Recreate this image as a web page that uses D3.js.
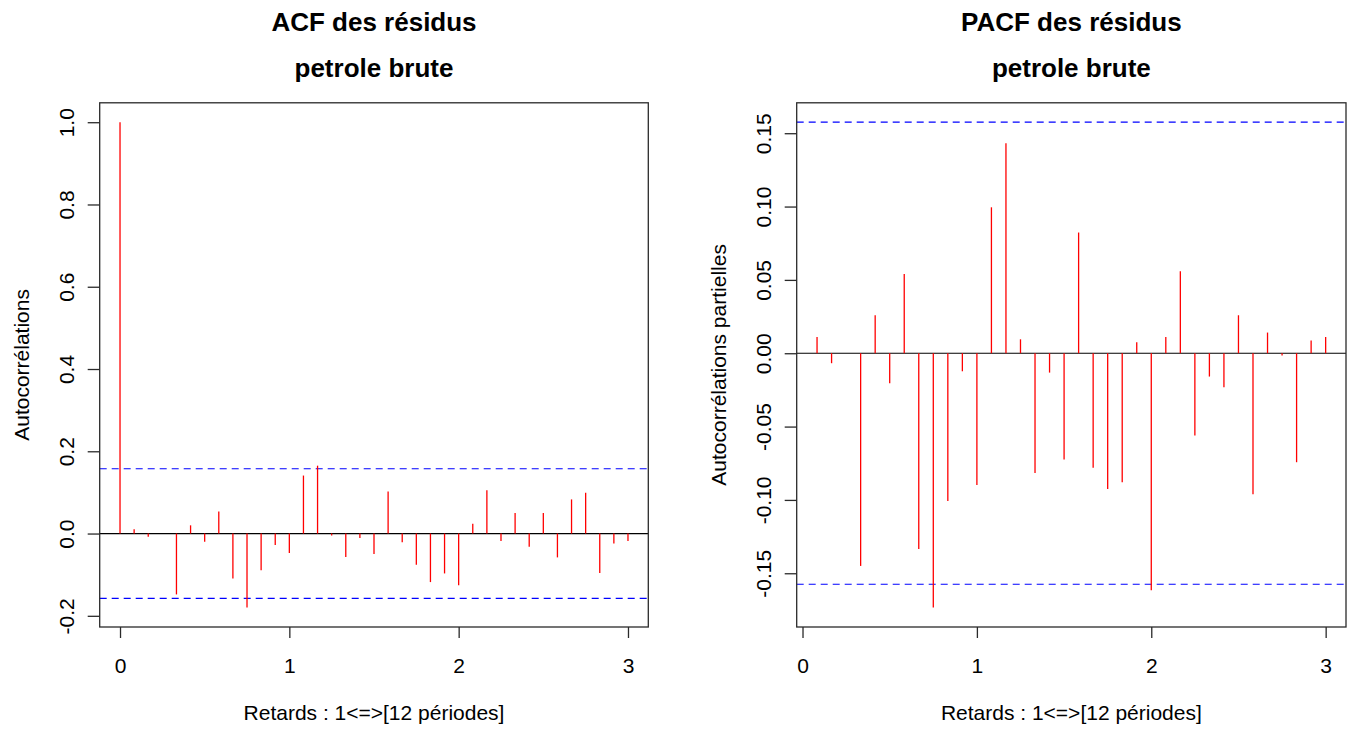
<!DOCTYPE html>
<html>
<head>
<meta charset="utf-8">
<script src="https://cdn.jsdelivr.net/npm/d3@7"></script>
<style>
  html, body { margin: 0; padding: 0; background: #fff; }
  svg { display: block; font-family: "Liberation Sans", Arial, sans-serif; }
</style>
</head>
<body>
<svg id="chart" width="1355" height="729"></svg>
<script>
// Residual autocorrelations, lag k corresponds to k/12 (12 periods per unit)
const acfValues = [1.0, 0.0105, -0.008, 0.0, -0.148, 0.020, -0.020, 0.0535, -0.109, -0.180,
  -0.089, -0.0276, -0.047, 0.141, 0.165, -0.005, -0.057, -0.011, -0.050, 0.102,
  -0.021, -0.076, -0.118, -0.097, -0.126, 0.024, 0.105, -0.018, 0.050, -0.032,
  0.050, -0.058, 0.083, 0.099, -0.096, -0.024, -0.018];

// Partial autocorrelations, lags 1..36
const pacfValues = [0.0111, -0.0068, 0.0, -0.145, 0.0259, -0.0205, 0.0541, -0.1334, -0.1734,
  -0.1007, -0.0123, -0.0898, 0.0995, 0.1432, 0.0095, -0.0816, -0.0132, -0.0725,
  0.0823, -0.078, -0.0925, -0.088, 0.0075, -0.1616, 0.0111, 0.0559, -0.0561,
  -0.0159, -0.0232, 0.0259, -0.0961, 0.0141, -0.0016, -0.0743, 0.0086, 0.0111];

const confLimit = 0.1575;          // 95% band, 1.96 / sqrt(n)
const periodsPerUnit = 12;

const acfTicks = [-0.2, 0.0, 0.2, 0.4, 0.6, 0.8, 1.0];
const pacfTicks = [-0.15, -0.10, -0.05, 0.00, 0.05, 0.10, 0.15];
const lagTicks = [0, 1, 2, 3];

const titles = ["ACF des résidus", "PACF des résidus"];
const subtitle = "petrole brute";
const xLabel = "Retards : 1<=>[12 périodes]";
const yLabels = ["Autocorrélations", "Autocorrélations partielles"];

const svg = d3.select("#chart");

function padded(lo, hi) {
  const p = (hi - lo) * 0.04;
  return [lo - p, hi + p];
}

function drawPanel(opts) {
  const { left, right, top, bottom, values, firstLag, ticks, decimals, title, yLabel } = opts;
  const lags = values.map((v, i) => (i + firstLag) / periodsPerUnit);

  const x = d3.scaleLinear()
    .domain(padded(d3.min(lags), d3.max(lags)))
    .range([left, right]);
  const y = d3.scaleLinear()
    .domain(padded(Math.min(d3.min(values), -confLimit), Math.max(d3.max(values), confLimit)))
    .range([bottom, top]);

  const g = svg.append("g");
  const axisColor = "#2a2a2a";

  // confidence band limits
  g.selectAll("line.conf")
    .data([confLimit, -confLimit])
    .join("line")
    .attr("class", "conf")
    .attr("x1", left).attr("x2", right)
    .attr("y1", d => y(d)).attr("y2", d => y(d))
    .attr("stroke", "#0000ff")
    .attr("stroke-width", 1.2)
    .attr("stroke-dasharray", "7 5");

  // zero line
  g.append("line")
    .attr("x1", left).attr("x2", right)
    .attr("y1", y(0)).attr("y2", y(0))
    .attr("stroke", "#000")
    .attr("stroke-width", 1.2);

  // spikes
  g.selectAll("line.spike")
    .data(values)
    .join("line")
    .attr("class", "spike")
    .attr("x1", (d, i) => x(lags[i])).attr("x2", (d, i) => x(lags[i]))
    .attr("y1", y(0)).attr("y2", d => y(d))
    .attr("stroke", "#ff0000")
    .attr("stroke-width", 1.3);

  // frame
  g.append("rect")
    .attr("x", left).attr("y", top)
    .attr("width", right - left).attr("height", bottom - top)
    .attr("fill", "none")
    .attr("stroke", axisColor)
    .attr("stroke-width", 1.3);

  // x axis
  const xAxis = g.append("g")
    .attr("transform", `translate(0,${bottom})`)
    .call(d3.axisBottom(x).tickValues(lagTicks).tickSize(11).tickSizeOuter(0).tickFormat(d3.format("d")));
  xAxis.select(".domain").remove();
  xAxis.selectAll(".tick line").attr("stroke", axisColor).attr("stroke-width", 1.3);
  xAxis.selectAll(".tick text")
    .attr("y", 46).attr("dy", 0)
    .attr("font-size", 21)
    .attr("fill", "#000");

  // y axis with labels parallel to the axis
  const yAxis = g.append("g")
    .attr("transform", `translate(${left},0)`)
    .call(d3.axisLeft(y).tickValues(ticks).tickSize(12).tickSizeOuter(0).tickFormat(d => d.toFixed(decimals)));
  yAxis.select(".domain").remove();
  yAxis.selectAll(".tick line").attr("stroke", axisColor).attr("stroke-width", 1.3);
  yAxis.selectAll(".tick text")
    .attr("x", 0).attr("dy", 0)
    .attr("transform", "translate(-26,0) rotate(-90)")
    .attr("text-anchor", "middle")
    .attr("font-size", 21)
    .attr("fill", "#000");

  const cx = (left + right) / 2;
  const cy = (top + bottom) / 2;

  g.append("text")
    .attr("x", cx).attr("y", 31)
    .attr("text-anchor", "middle")
    .attr("font-size", 26).attr("font-weight", "bold")
    .text(title);
  g.append("text")
    .attr("x", cx).attr("y", 77)
    .attr("text-anchor", "middle")
    .attr("font-size", 26).attr("font-weight", "bold")
    .text(subtitle);

  g.append("text")
    .attr("x", cx).attr("y", 720)
    .attr("text-anchor", "middle")
    .attr("font-size", 21)
    .text(xLabel);

  g.append("text")
    .attr("transform", `translate(${left - 71},${cy}) rotate(-90)`)
    .attr("text-anchor", "middle")
    .attr("font-size", 21)
    .text(yLabel);
}

drawPanel({
  left: 99.7, right: 648.3, top: 102.8, bottom: 627,
  values: acfValues, firstLag: 0, ticks: acfTicks, decimals: 1,
  title: titles[0], yLabel: yLabels[0]
});

drawPanel({
  left: 796.7, right: 1346, top: 102.8, bottom: 627,
  values: pacfValues, firstLag: 1, ticks: pacfTicks, decimals: 2,
  title: titles[1], yLabel: yLabels[1]
});
</script>
</body>
</html>
